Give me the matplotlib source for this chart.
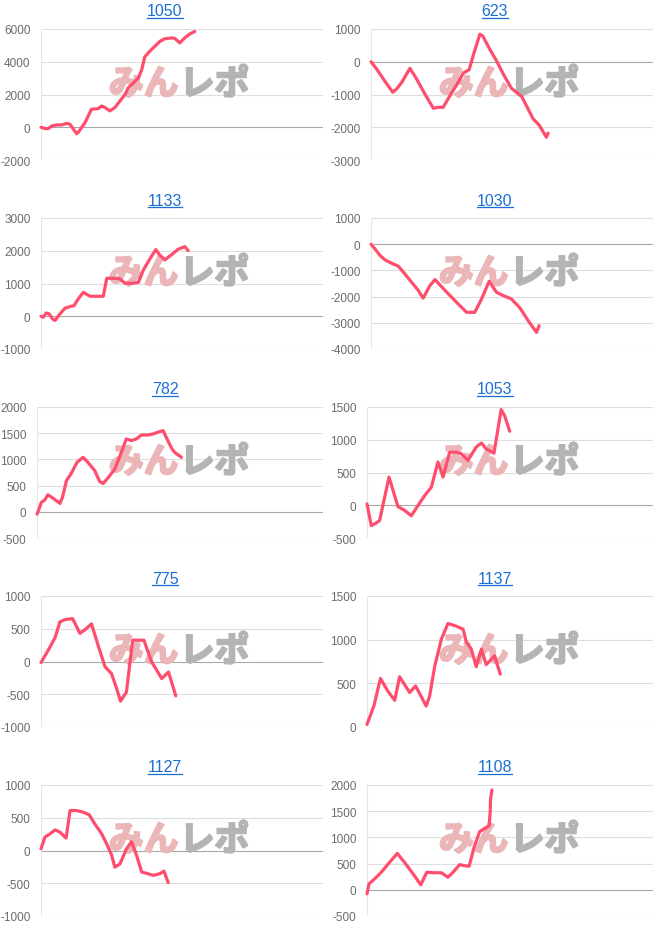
import matplotlib
matplotlib.use("Agg")
import matplotlib.pyplot as plt
import matplotlib.patheffects as pe
from matplotlib.lines import Line2D

# x positions are read as % of the horizontal axis, y values as balance
x_1050 = [0, 1.4, 2.6, 3.8, 5.5, 7.3, 9.1, 10.3, 12.6, 13.2, 15.6, 17.9, 20.3, 21.5, 22.7,
          24.4, 26.2, 28.0, 29.8, 30.9, 32.7, 34.5, 35.7, 36.8, 38.6, 40.4, 42.2, 43.9,
          46.3, 47.5, 49.2, 51.0, 52.8, 54.5]
y_1050 = [0, -80, -80, 80, 140, 140, 240, 180, -390, -320, 280, 1100, 1140, 1300, 1200,
          1000, 1200, 1600, 2000, 2400, 2700, 3000, 3500, 4300, 4650, 4950, 5250, 5400,
          5460, 5420, 5150, 5460, 5700, 5850]

x_623 = [0, 2.0, 4.4, 7.7, 9.1, 10.9, 13.8, 16.2, 19.1, 22.1, 23.8, 25.6, 28.0, 30.9,
         32.7, 34.8, 36.2, 38.6, 39.6, 42.1, 44.5, 46.9, 49.8, 51.6, 53.4, 55.1, 57.5,
         59.6, 62.2, 62.8]
y_623 = [0, -220, -530, -930, -830, -630, -200, -530, -985, -1420, -1390, -1390, -1035,
         -630, -345, -245, 180, 840, 790, 385, 30, -375, -810, -935, -1055, -1340, -1745,
         -1930, -2305, -2180]

x_1133 = [0, 0.8, 1.8, 2.9, 4.1, 5.0, 6.7, 8.5, 10.3, 11.7, 13.2, 15.0, 17.4, 19.7, 22.1,
          23.3, 26.2, 28.0, 29.8, 32.1, 34.5, 36.2, 38.6, 40.7, 42.1, 43.9, 46.3, 48.6,
          51.0, 52.2]
y_1133 = [0, -30, 100, 70, -80, -130, 70, 245, 295, 325, 530, 730, 610, 610, 610, 1160,
          1160, 1140, 1005, 1005, 1030, 1395, 1750, 2035, 1870, 1720, 1880, 2045, 2125, 2005]

x_1030 = [0, 1.4, 3.2, 5.0, 7.3, 9.7, 11.5, 14.4, 16.8, 18.5, 20.9, 22.7, 25.0, 28.0,
          30.9, 33.9, 36.8, 39.2, 41.9, 44.5, 46.9, 49.8, 52.8, 55.7, 58.7, 59.6]
y_1030 = [0, -180, -430, -600, -725, -840, -1070, -1450, -1770, -2060, -1580, -1350,
          -1620, -1960, -2280, -2600, -2600, -2090, -1415, -1835, -1960, -2090, -2430,
          -2915, -3365, -3110]

x_782 = [0, 0.7, 1.5, 2.7, 3.8, 5.6, 8.0, 8.9, 10.3, 12.0, 14.0, 16.1, 17.8, 20.2, 21.9,
         23.1, 24.8, 27.2, 29.5, 31.2, 33.0, 34.7, 36.5, 38.8, 40.6, 42.3, 44.1, 45.2,
         47.0, 48.1, 50.5]
y_782 = [-45, 50, 180, 225, 325, 260, 160, 275, 595, 735, 945, 1040, 945, 785, 580, 540,
         645, 815, 1135, 1390, 1360, 1390, 1465, 1465, 1485, 1520, 1550, 1420, 1220, 1135,
         1040]

x_1053 = [0, 1.5, 2.7, 4.4, 7.7, 10.8, 13.2, 15.5, 17.8, 20.2, 22.5, 24.8, 26.6, 28.9,
          31.2, 33.0, 35.3, 38.2, 40.0, 41.7, 44.4, 46.9, 48.1, 49.9]
y_1053 = [20, -310, -285, -235, 430, -20, -80, -160, -5, 150, 275, 660, 430, 810, 810,
          785, 685, 890, 950, 860, 795, 1460, 1370, 1130]

x_775 = [0, 2.6, 5.0, 6.7, 8.5, 11.2, 13.8, 15.9, 17.9, 20.3, 22.7, 25.0, 26.8, 28.2,
         30.3, 32.5, 34.5, 36.5, 39.2, 41.0, 42.8, 45.2, 47.8]
y_775 = [-15, 175, 365, 605, 640, 655, 430, 495, 575, 240, -80, -185, -410, -605, -465,
         325, 325, 325, -5, -130, -260, -160, -525]

x_1137 = [0, 2.4, 4.7, 7.3, 9.7, 11.4, 14.9, 17.0, 20.7, 21.9, 23.7, 26.0, 28.3, 31.2,
          33.6, 34.7, 36.5, 38.2, 40.0, 41.7, 44.6, 46.6]
y_1137 = [30, 240, 555, 410, 305, 575, 395, 470, 240, 355, 700, 1005, 1185, 1155, 1120,
          975, 890, 690, 890, 715, 815, 605]

x_1127 = [0, 1.4, 3.2, 5.0, 6.7, 8.9, 10.3, 12.6, 15.0, 17.1, 19.1, 21.5, 23.3, 25.0,
          26.2, 28.0, 30.3, 32.1, 33.9, 35.7, 38.0, 39.8, 42.1, 43.6, 45.1]
y_1127 = [25, 205, 255, 315, 280, 190, 610, 610, 585, 545, 405, 255, 100, -65, -255, -205,
          25, 135, -75, -330, -355, -380, -355, -315, -490]

x_1108 = [0, 0.7, 2.7, 5.0, 7.9, 10.6, 13.1, 16.1, 18.8, 20.9, 23.7, 26.0, 28.3, 30.1,
          32.4, 34.1, 35.7, 37.6, 39.4, 41.1, 42.7, 43.1, 43.2, 43.7]
y_1108 = [-75, 115, 210, 335, 525, 695, 525, 305, 95, 335, 325, 325, 240, 335, 480, 460,
          450, 840, 1110, 1170, 1220, 1505, 1730, 1905]

titles = ["1050", "623", "1133", "1030", "782", "1053", "775", "1137", "1127", "1108"]
xs = [x_1050, x_623, x_1133, x_1030, x_782, x_1053, x_775, x_1137, x_1127, x_1108]
ys = [y_1050, y_623, y_1133, y_1030, y_782, y_1053, y_775, y_1137, y_1127, y_1108]
y_ranges = [(-2000, 6000, 2000), (-3000, 1000, 1000), (-1000, 3000, 1000),
            (-4000, 1000, 1000), (-500, 2000, 500), (-500, 1500, 500),
            (-1000, 1000, 500), (0, 1500, 500), (-1000, 1000, 500), (-500, 2000, 500)]

W, H = 660, 945
fig = plt.figure(figsize=(W / 100, H / 100), dpi=100)
fig.patch.set_facecolor("white")

line_color = "#ff4d6d"
link_color = "#1a6fd4"
tick_color = "#6b6b6b"
pink = "#ebb6b8"
grey = "#b4b4b4"

title_texts = []
for i in range(10):
    col = i % 2
    row = i // 2
    ymin, ymax, step = y_ranges[i]
    ticks = list(range(ymin, ymax + 1, step))
    labels = [str(t) for t in ticks]
    longest = max(len(s) for s in labels)
    left = (37 if longest <= 4 else 41) + col * 330
    right = 323 + col * 330
    top = 30 + row * 189
    ph = 131
    ax = fig.add_axes([left / W, 1 - (top + ph) / H, (right - left) / W, ph / H])
    ax.set_xlim(0, 100)
    ax.set_ylim(ymin, ymax)
    for sp in ax.spines.values():
        sp.set_visible(False)
    ax.set_xticks([])
    ax.set_yticks(ticks)
    ax.set_yticklabels(labels)
    ax.tick_params(axis="y", length=0, pad=7.5, labelsize=8.5, labelcolor=tick_color)
    for lab in ax.get_yticklabels():
        lab.set_fontfamily("Liberation Sans")
    for t in ticks:
        c = "#a8a8a8" if t == 0 else "#dedede"
        ax.axhline(t, color=c, lw=0.8, zorder=1)
    ax.axvline(0, color="#e6e6e6", lw=0.8, zorder=1)

    # watermark logo
    wx = (177 + col * 330 - left) / (right - left)
    ax.text(wx + 0.005, 0.58, "みん", transform=ax.transAxes, ha="right", va="center",
            fontsize=25, fontweight="bold", color=pink,
            family=["Noto Sans CJK JP", "DejaVu Sans"], zorder=2,
            path_effects=[pe.withStroke(linewidth=1.6, foreground=pink)])
    ax.text(wx + 0.01, 0.58, "レポ", transform=ax.transAxes, ha="left", va="center",
            fontsize=25, fontweight="bold", color=grey,
            family=["Noto Sans CJK JP", "DejaVu Sans"], zorder=2,
            path_effects=[pe.withStroke(linewidth=1.6, foreground=grey)])

    ax.plot(xs[i], ys[i], color=line_color, lw=2.3, solid_joinstyle="round",
            solid_capstyle="round", zorder=3, clip_on=False)

    tt = fig.text((165 + col * 330) / W, 1 - (top - 18) / H, titles[i], ha="center",
                  va="center", fontsize=11.5, color=link_color, family="Liberation Sans")
    title_texts.append(tt)

# underline the link titles
fig.canvas.draw()
r = fig.canvas.get_renderer()
for tt in title_texts:
    bb = tt.get_window_extent(r)
    yy = (bb.y0 + 1) / H
    fig.add_artist(Line2D([bb.x0 / W, bb.x1 / W], [yy, yy], color=link_color, lw=0.9))

fig.savefig("out.png", dpi=100)
